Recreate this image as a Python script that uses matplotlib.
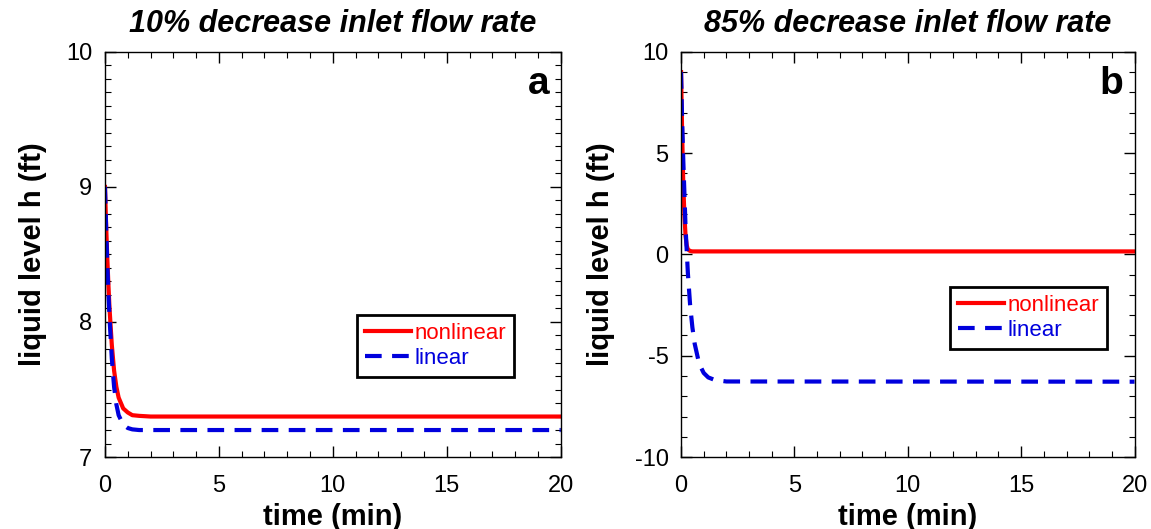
import numpy as np
import matplotlib
matplotlib.use("Agg")
import matplotlib.pyplot as plt
from matplotlib.ticker import MultipleLocator

plt.rcParams['font.family'] = ['Liberation Sans', 'DejaVu Sans']
plt.rcParams['axes.unicode_minus'] = False

# panel a: 10% decrease
t_a = [0, 0.05, 0.1, 0.15, 0.2, 0.3, 0.4, 0.5, 0.6, 0.8, 1.0, 1.2, 1.5, 2, 20]
h_a_nonlin = [9.0, 8.72, 8.48, 8.28, 8.1, 7.83, 7.64, 7.52, 7.44, 7.36, 7.33, 7.31, 7.305, 7.30, 7.30]
h_a_lin = [9.0, 8.7, 8.44, 8.22, 8.03, 7.73, 7.52, 7.39, 7.31, 7.24, 7.215, 7.205, 7.2, 7.2, 7.2]

# panel b: 85% decrease
t_b_nonlin = [0, 0.05, 0.1, 0.15, 0.2, 0.25, 0.3, 0.4, 0.5, 20]
h_b_nonlin = [9.0, 5.9, 3.4, 1.9, 0.9, 0.45, 0.25, 0.17, 0.15, 0.15]
t_b_lin = [0, 0.05, 0.1, 0.2, 0.3, 0.4, 0.5, 0.6, 0.8, 1.0, 1.2, 1.5, 2, 20]
h_b_lin = [9.0, 6.5, 4.6, 1.3, -0.9, -2.5, -3.6, -4.4, -5.4, -5.85, -6.07, -6.2, -6.27, -6.28]

titles = ["10% decrease inlet flow rate", "85% decrease inlet flow rate"]
letters = ["a", "b"]

fig = plt.figure(figsize=(11.51, 5.29), dpi=100)
ax_a = fig.add_axes([0.0912, 0.136, 0.396, 0.766])
ax_b = fig.add_axes([0.5917, 0.136, 0.394, 0.766])

panels = [
    (ax_a, t_a, h_a_nonlin, t_a, h_a_lin, (7, 10), 1, 0.1, (0.553, 0.198)),
    (ax_b, t_b_nonlin, h_b_nonlin, t_b_lin, h_b_lin, (-10, 10), 5, 1, (0.593, 0.267)),
]

for i, (ax, tn, hn, tl, hl, ylim, ymaj, ymin, legpos) in enumerate(panels):
    ax.plot(tn, hn, color="red", lw=3, label="nonlinear")
    ax.plot(tl, hl, color="#0000dd", lw=3, ls=(0, (4, 2.5)), label="linear")
    ax.set_xlim(0, 20)
    ax.set_ylim(*ylim)
    ax.xaxis.set_major_locator(MultipleLocator(5))
    ax.xaxis.set_minor_locator(MultipleLocator(1))
    ax.yaxis.set_major_locator(MultipleLocator(ymaj))
    ax.yaxis.set_minor_locator(MultipleLocator(ymin))
    ax.tick_params(which="both", direction="in", top=True, right=True, labelsize=17)
    ax.tick_params(axis="x", pad=13)
    ax.tick_params(axis="y", pad=9)
    ax.tick_params(which="major", length=8, width=1)
    ax.tick_params(which="minor", length=4, width=0.8)
    for s in ax.spines.values():
        s.set_linewidth(1)
    ax.set_xlabel("time (min)", fontsize=21, fontweight="bold", labelpad=4)
    ax.set_ylabel("liquid level h (ft)", fontsize=21, fontweight="bold", labelpad=14)
    ax.set_title(titles[i], fontsize=22, fontweight="bold", style="italic", pad=14)
    ax.text(0.975, 0.965, letters[i], transform=ax.transAxes, ha="right", va="top",
            fontsize=28, fontweight="bold")
    leg = ax.legend(loc="lower left", bbox_to_anchor=legpos, fontsize=16, fancybox=False,
                    framealpha=1, edgecolor="black", handlelength=2.1, handletextpad=0.15,
                    borderpad=0.35, labelspacing=0.2, borderaxespad=0)
    leg.get_frame().set_linewidth(2)
    for txt, line in zip(leg.get_texts(), leg.get_lines()):
        txt.set_color(line.get_color())

fig.savefig("out.png", dpi=100)
